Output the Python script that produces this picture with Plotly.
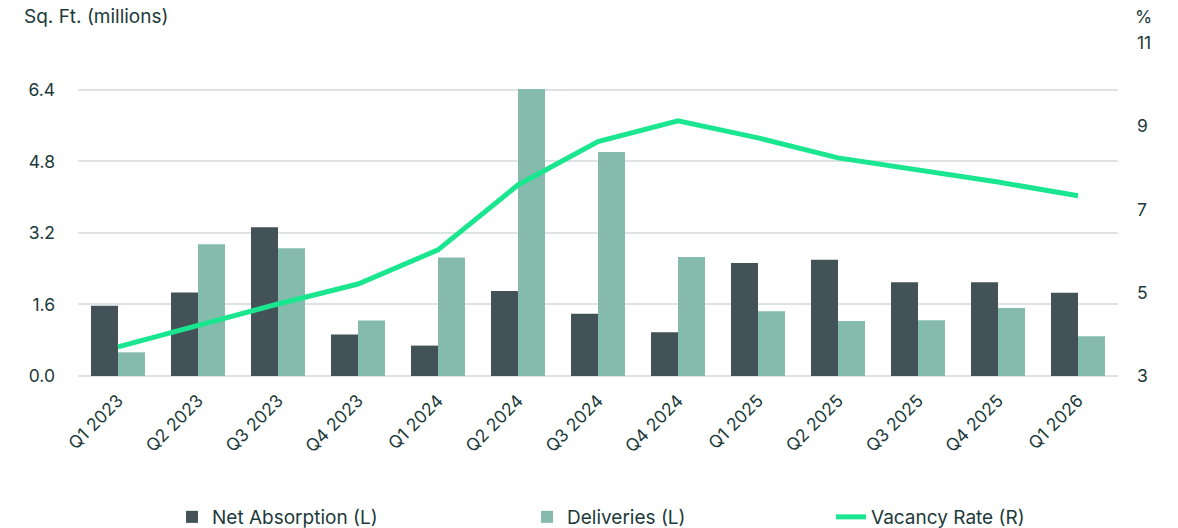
import plotly.graph_objects as go

quarters = ["Q1 2023", "Q2 2023", "Q3 2023", "Q4 2023", "Q1 2024", "Q2 2024", "Q3 2024",
            "Q4 2024", "Q1 2025", "Q2 2025", "Q3 2025", "Q4 2025", "Q1 2026"]
net_absorption = [1.57, 1.87, 3.33, 0.93, 0.68, 1.90, 1.39, 0.98, 2.53, 2.60, 2.10, 2.10, 1.86]
deliveries = [0.53, 2.95, 2.86, 1.24, 2.65, 6.42, 5.01, 2.66, 1.45, 1.23, 1.25, 1.52, 0.89]
vacancy_rate = [3.70, 4.23, 4.73, 5.21, 6.03, 7.59, 8.63, 9.13, 8.72, 8.24, 7.95, 7.66, 7.33]

left_ticks = [0, 1.6, 3.2, 4.8, 6.4]
left_tick_text = ["0.0", "1.6", "3.2", "4.8", "6.4"]
right_ticks = [3, 5, 7, 9, 11]

FONT = "Inter"
TXT = "#1c3a3a"
DARK = "#435257"
LIGHT = "#84bbad"
GREEN = "#1ae68f"

fig = go.Figure()
fig.add_trace(go.Bar(x=quarters, y=net_absorption, name="Net Absorption (L)",
                     marker=dict(color=DARK, line=dict(width=0)), legend="legend", showlegend=True))
fig.add_trace(go.Bar(x=quarters, y=deliveries, name="Deliveries (L)",
                     marker=dict(color=LIGHT, line=dict(width=0)), legend="legend2", showlegend=True))
fig.add_trace(go.Scatter(x=quarters, y=vacancy_rate, name="Vacancy Rate (R)", mode="lines",
                         line=dict(color=GREEN, width=5), yaxis="y2", legend="legend3",
                         showlegend=True))

leg_common = dict(orientation="h", yanchor="middle", xanchor="left", bgcolor="rgba(0,0,0,0)",
                  font=dict(family=FONT, size=19, color=TXT), visible=True)
W = 1040.0
def lx(px):
    return (px - 78) / W
ly = -(517 - 376) / 333.0

fig.update_layout(
    width=1178, height=528,
    margin=dict(l=78, r=60, t=43, b=152, autoexpand=False),
    paper_bgcolor="white", plot_bgcolor="white",
    showlegend=True,
    font=dict(family=FONT, size=17, color=TXT),
    barmode="group", bargap=0.325, bargroupgap=0,
    xaxis=dict(tickangle=-45, showgrid=False, showline=False, ticks="", ticklabelstandoff=10,
               tickfont=dict(family=FONT, size=17.5, color=TXT)),
    yaxis=dict(range=[0, 7.45], tickvals=left_ticks, ticktext=left_tick_text,
               showgrid=True, gridcolor="#dde3e2", gridwidth=2, zeroline=True,
               zerolinecolor="#dde3e2", zerolinewidth=2, ticklabelstandoff=22,
               tickfont=dict(family=FONT, size=17.5, color=TXT)),
    yaxis2=dict(range=[3, 11], tickvals=right_ticks, overlaying="y", side="right",
                showgrid=False, zeroline=False, ticklabelstandoff=18,
                tickfont=dict(family=FONT, size=17.5, color=TXT)),
    legend=dict(x=lx(172), y=ly, **leg_common),
    legend2=dict(x=lx(527), y=ly, **leg_common),
    legend3=dict(x=lx(831), y=ly, **leg_common),
    annotations=[
        dict(text="Sq. Ft. (millions)", xref="paper", yref="paper", x=lx(22), y=1 + 26 / 333.0,
             xanchor="left", yanchor="middle", showarrow=False,
             font=dict(family=FONT, size=19, color=TXT)),
        dict(text="%", xref="paper", yref="paper", x=lx(1133), y=1 + 26 / 333.0,
             xanchor="left", yanchor="middle", showarrow=False,
             font=dict(family=FONT, size=17.5, color=TXT)),
    ],
)

fig.write_html("out.html")
